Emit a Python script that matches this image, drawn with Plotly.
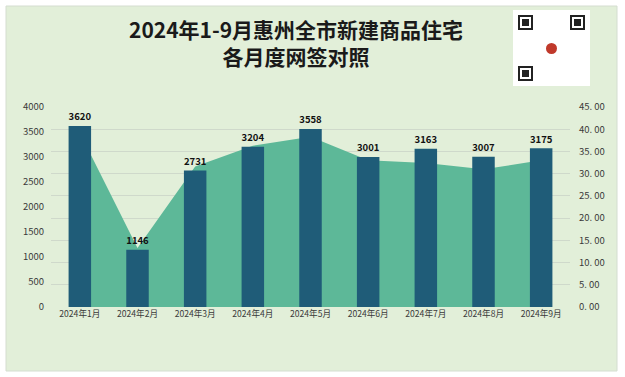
import plotly.graph_objects as go

months = ["2024年1月", "2024年2月", "2024年3月", "2024年4月", "2024年5月",
          "2024年6月", "2024年7月", "2024年8月", "2024年9月"]
units = [3620, 1146, 2731, 3204, 3558, 3001, 3163, 3007, 3175]
area_vals = [39.2, 13.3, 31.6, 36.3, 38.3, 33.0, 32.4, 31.0, 33.0]
left_ticks = [0, 500, 1000, 1500, 2000, 2500, 3000, 3500, 4000]
right_ticks = [0, 5, 10, 15, 20, 25, 30, 35, 40, 45]
right_tick_text = ["0. 00", "5. 00", "10. 00", "15. 00", "20. 00", "25. 00",
                   "30. 00", "35. 00", "40. 00", "45. 00"]

BG = "#E2EFD9"
BAR = "#1F5C78"
AREA = "#5DB898"
FONT = "Noto Sans CJK SC"

L, T, PW, PH = 51, 107, 519, 200


def px(x):
    return (x - L) / PW


def py(y):
    return (T + PH - y) / PH


fig = go.Figure()
fig.add_trace(go.Scatter(
    x=months, y=area_vals, mode="lines", fill="tozeroy",
    line=dict(width=0, color=AREA), fillcolor=AREA, yaxis="y",
    hoverinfo="skip", showlegend=False))
fig.add_trace(go.Bar(
    x=months, y=units, marker=dict(color=BAR, line=dict(width=0)),
    width=0.39, yaxis="y2", text=[str(v) for v in units],
    textposition="outside", cliponaxis=False,
    textfont=dict(family=FONT, size=10.5, color="#111111", weight="bold"),
    showlegend=False))

shapes = [
    dict(type="rect", xref="paper", yref="paper", layer="below",
         x0=px(6), x1=px(617), y0=py(371), y1=py(6),
         fillcolor=BG, line=dict(color="#D4DDD0", width=1)),
    dict(type="rect", xref="paper", yref="paper", layer="above",
         x0=px(513), x1=px(590), y0=py(86), y1=py(10),
         fillcolor="white", line=dict(width=0)),
]
# simplified QR-code finder marks
for fx, fy in [(518, 15), (570, 15), (518, 66)]:
    shapes.append(dict(type="rect", xref="paper", yref="paper", layer="above",
                       x0=px(fx), x1=px(fx + 15), y0=py(fy + 15), y1=py(fy),
                       fillcolor="#222222", line=dict(width=0)))
    shapes.append(dict(type="rect", xref="paper", yref="paper", layer="above",
                       x0=px(fx + 2), x1=px(fx + 13), y0=py(fy + 13), y1=py(fy + 2),
                       fillcolor="white", line=dict(width=0)))
    shapes.append(dict(type="rect", xref="paper", yref="paper", layer="above",
                       x0=px(fx + 4), x1=px(fx + 11), y0=py(fy + 11), y1=py(fy + 4),
                       fillcolor="#222222", line=dict(width=0)))
shapes.append(dict(type="circle", xref="paper", yref="paper", layer="above",
                   x0=px(546), x1=px(557), y0=py(54), y1=py(43),
                   fillcolor="#C0392B", line=dict(width=0)))

fig.update_layout(
    width=625, height=377,
    margin=dict(l=L, r=625 - L - PW, t=T, b=377 - T - PH),
    paper_bgcolor="white", plot_bgcolor=BG,
    font=dict(family=FONT, size=9.5, color="#3a3a3a"),
    xaxis=dict(showgrid=False, ticks="", showline=False,
               tickfont=dict(size=8.6, color="#3a3a3a")),
    yaxis=dict(side="right", range=[0, 45], tickvals=right_ticks,
               ticktext=right_tick_text, showgrid=True, gridcolor="#CFD9CB",
               gridwidth=1, zeroline=False, showline=False, ticks="",
               ticklabelstandoff=8, tickfont=dict(size=9.5, color="#3a3a3a")),
    yaxis2=dict(side="left", overlaying="y", range=[0, 4000],
                tickvals=left_ticks, showgrid=False, zeroline=False,
                showline=False, ticks="", ticklabelstandoff=6,
                tickfont=dict(size=9.5, color="#3a3a3a")),
    bargap=0.6,
    shapes=shapes,
    annotations=[
        dict(text="<b>2024年1-9月惠州全市新建商品住宅<br>各月度网签对照</b>",
             xref="paper", yref="paper",
             x=px(296), y=py(42), showarrow=False,
             xanchor="center", yanchor="middle", align="center",
             font=dict(family=FONT, size=21, color="#1a1a1a")),
    ],
)

fig.write_html("out.html", config={"displayModeBar": False},
               post_script="document.body.style.margin='0px';")
